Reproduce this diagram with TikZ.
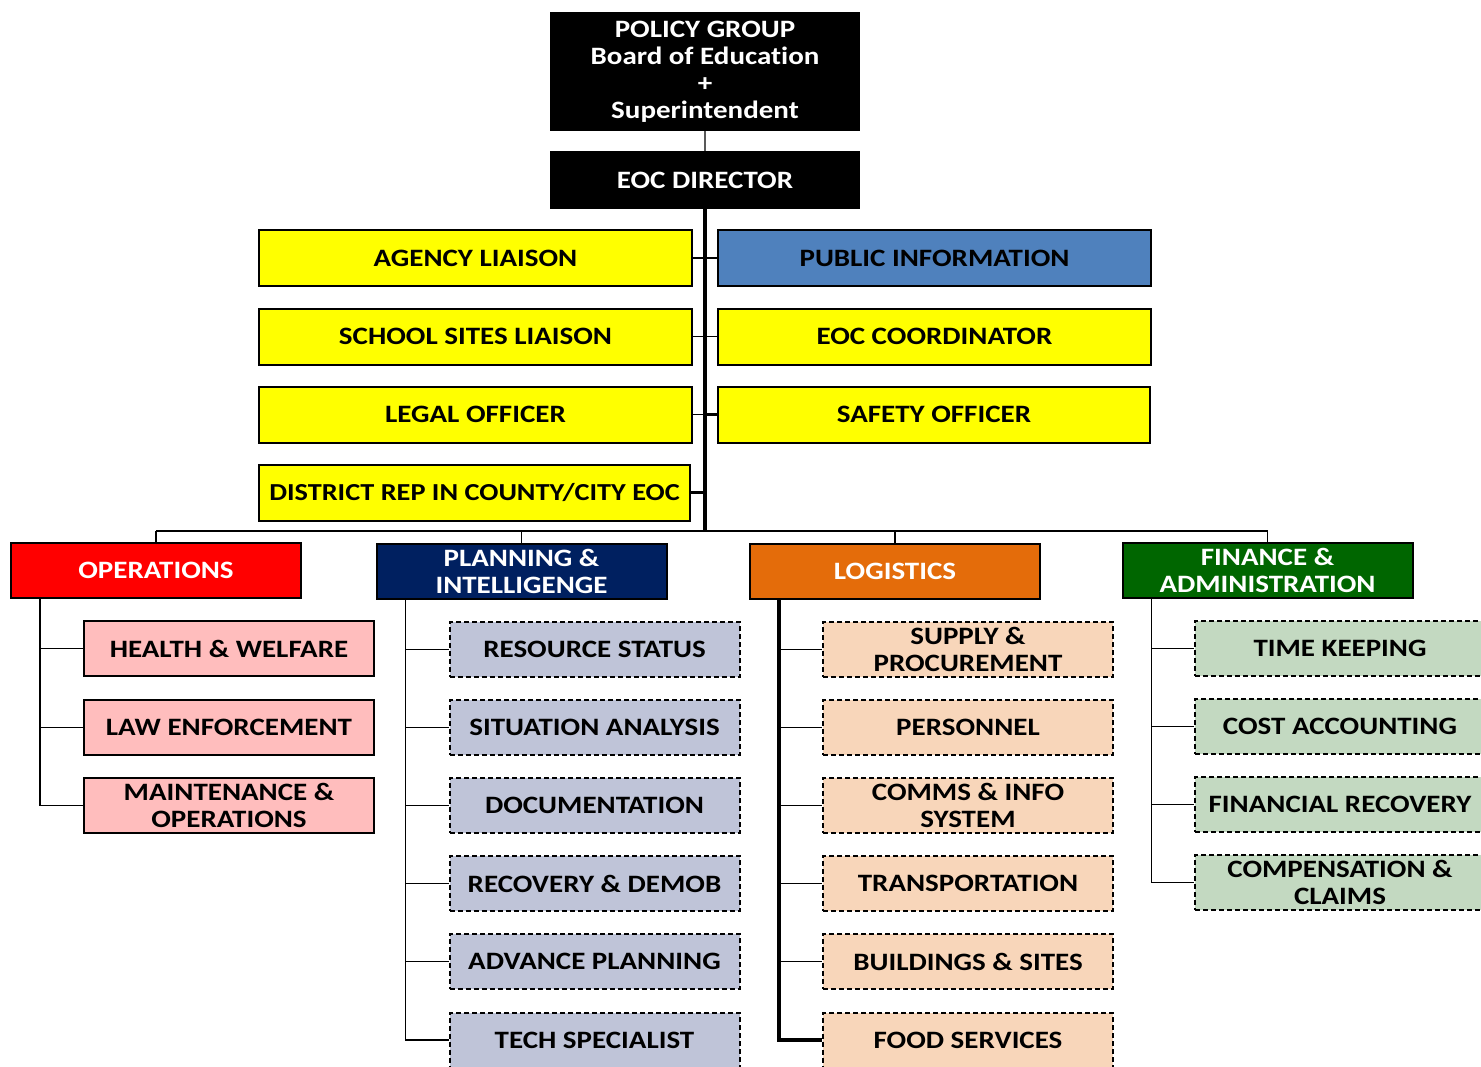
\documentclass[tikz,border=0pt]{standalone}
\usepackage{fontspec}
\setmainfont{Carlito}[FakeStretch=1.16, Ligatures=NoCommon]
\usetikzlibrary{calc}
\definecolor{cyellow}{HTML}{FFFF00}
\definecolor{cblue}{HTML}{4F81BD}
\definecolor{cred}{HTML}{FF0000}
\definecolor{cnavy}{HTML}{002060}
\definecolor{corange}{HTML}{E46C0A}
\definecolor{cgreen}{HTML}{006600}
\definecolor{cpink}{HTML}{FFBDBD}
\definecolor{cslate}{HTML}{BFC4D8}
\definecolor{cpeach}{HTML}{F8D6BA}
\definecolor{cmint}{HTML}{C3D9C1}
\begin{document}
\begin{tikzpicture}[x=0.5pt,y=-0.5pt,
  box/.style={draw=black, line width=1pt, inner sep=0pt, align=center,
    font=\bfseries\fontsize{12.5}{13.5}\selectfont},
  wh/.style 2 args={minimum width=#1*0.5pt, minimum height=#2*0.5pt},
  topbox/.style={box, fill=black, text=white, wh={308}{#1}},
  liaison/.style={box, fill=cyellow, wh={433}{56}},
  section/.style={box, text=white, wh={290}{55}},
  opsbox/.style={box, fill=cpink, wh={290}{55}},
  dashbox/.style={box, dash pattern=on 2.5pt off 1.5pt, wh={290}{55}},
  planbox/.style={dashbox, fill=cslate},
  logbox/.style={dashbox, fill=cpeach},
  finbox/.style={dashbox, fill=cmint},
  thinline/.style={line width=0.75pt},
  midline/.style={line width=1.25pt},
  thickline/.style={line width=1.75pt}
]
\useasboundingbox (0,0) rectangle (1481,1066);
\clip (0,0) rectangle (1481,1066);

% top
\node[topbox=117] (pg) at (705,71.5) {POLICY GROUP\\Board of Education\\+\\Superintendent};
\node[topbox=56] (dir) at (705,180) {EOC DIRECTOR};

% liaison boxes
\node[liaison] (al) at (475.5,258) {AGENCY LIAISON};
\node[liaison, fill=cblue] (pi) at (934.5,258) {PUBLIC INFORMATION};
\node[liaison] (ssl) at (475.5,336.5) {SCHOOL SITES LIAISON};
\node[liaison] (eoc) at (934.5,336.5) {EOC COORDINATOR};
\node[liaison] (lo) at (475.5,414.5) {LEGAL OFFICER};
\node[liaison, wh={432}{56}] (so) at (934,414.5) {SAFETY OFFICER};
\node[liaison, wh={431}{56}, font=\bfseries\fontsize{12.2}{13.5}\selectfont] (dr) at (474.5,492.5) {DISTRICT REP IN COUNTY/CITY EOC};

% sections
\node[section, fill=cred] (ops) at (156,570.5) {OPERATIONS};
\node[section, fill=cnavy] (plan) at (521.5,571.5) {PLANNING \&\\INTELLIGENGE};
\node[section, fill=corange] (log) at (895,571.5) {LOGISTICS};
\node[section, fill=cgreen] (fin) at (1267.5,570.5) {FINANCE \&\\ADMINISTRATION};

% operations children
\node[opsbox] (ops1) at (229,648.5) {HEALTH \& WELFARE};
\node[opsbox] (ops2) at (229,727.5) {LAW ENFORCEMENT};
\node[opsbox] (ops3) at (229,805.5) {MAINTENANCE \&\\OPERATIONS};

% planning children
\node[planbox] (plan1) at (594.5,649.5) {RESOURCE STATUS};
\node[planbox] (plan2) at (594.5,727.5) {SITUATION ANALYSIS};
\node[planbox] (plan3) at (594.5,805.5) {DOCUMENTATION};
\node[planbox] (plan4) at (594.5,883.5) {RECOVERY \& DEMOB};
\node[planbox] (plan5) at (594.5,961.5) {ADVANCE PLANNING};
\node[planbox] (plan6) at (594.5,1040) {TECH SPECIALIST};

% logistics children
\node[logbox] (log1) at (968,649.5) {SUPPLY \&\\PROCUREMENT};
\node[logbox] (log2) at (968,727.5) {PERSONNEL};
\node[logbox] (log3) at (968,805.5) {COMMS \& INFO\\SYSTEM};
\node[logbox] (log4) at (968,883.5) {TRANSPORTATION};
\node[logbox] (log5) at (968,961.5) {BUILDINGS \& SITES};
\node[logbox] (log6) at (968,1040) {FOOD SERVICES};

% finance children
\node[finbox] (fin1) at (1340,648.5) {TIME KEEPING};
\node[finbox] (fin2) at (1340,726.5) {COST ACCOUNTING};
\node[finbox] (fin3) at (1340,804.5) {FINANCIAL RECOVERY};
\node[finbox] (fin4) at (1340,882.5) {COMPENSATION \&\\CLAIMS};

% connectors: top
\draw[thinline, draw=black!65] (pg) -- (dir);
\coordinate (bus) at (705,531);
\draw[thickline] (dir.south) -- (bus);
\foreach \n in {al,ssl,lo} \draw[thinline] (\n.east) -- (\n.east -| bus);
\draw[thickline] (dr.east) -- (dr.east -| bus);
\foreach \n in {pi,eoc} \draw[thinline] (\n.west) -- (\n.west -| bus);
\draw[midline] (so.west) -- (so.west -| bus);

% bus to sections
\draw[thinline] (ops.north |- bus) -- (fin.north |- bus);
\foreach \n in {ops,plan,log,fin} \draw[thinline] (\n.north |- bus) -- (\n.north);

% sub trunks
\coordinate (opsT) at ([xshift=15pt]ops.south west);
\draw[thinline] (opsT) |- (ops3.west);
\foreach \i in {1,2} \draw[thinline] (ops\i.west) -- (ops\i.west -| opsT);

\coordinate (planT) at ([xshift=15pt]plan.south west);
\draw[thinline] (planT) |- (plan6.west);
\foreach \i in {1,...,5} \draw[thinline] (plan\i.west) -- (plan\i.west -| planT);

\coordinate (logT) at ([xshift=15pt]log.south west);
\draw[thickline] (logT) |- (log6.west);
\foreach \i in {1,...,5} \draw[thinline] (log\i.west) -- (log\i.west -| logT);

\coordinate (finT) at ([xshift=15pt]fin.south west);
\draw[thinline] (finT) |- (fin4.west);
\foreach \i in {1,2,3} \draw[thinline] (fin\i.west) -- (fin\i.west -| finT);
\end{tikzpicture}
\end{document}
